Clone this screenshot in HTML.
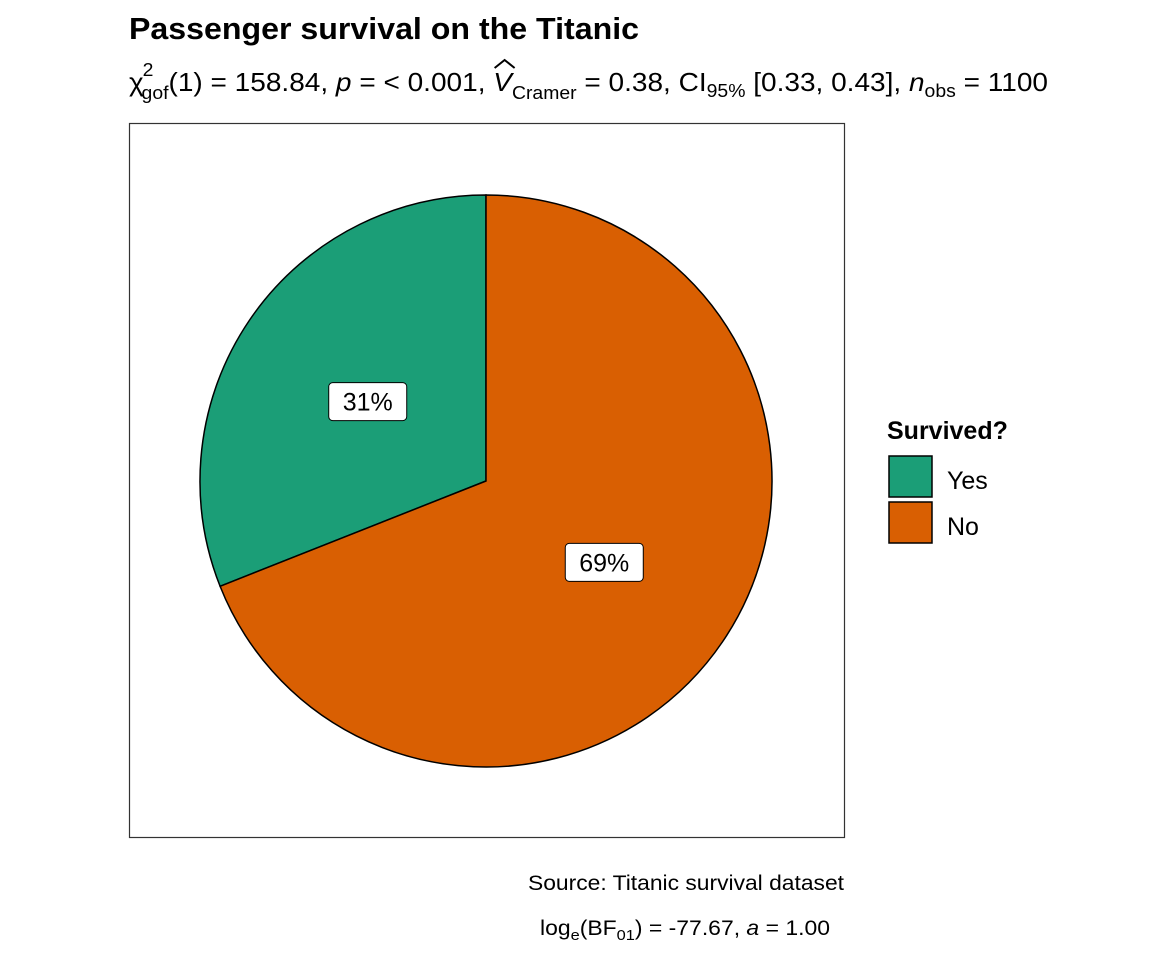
<!DOCTYPE html>
<html><head><meta charset="utf-8"><style>
html,body{margin:0;padding:0;background:#fff;}
svg{display:block;font-family:"Liberation Sans",sans-serif;}
</style></head><body>
<svg id="chart" width="1152" height="960" viewBox="0 0 1152 960">
<rect width="1152" height="960" fill="#fff"/>
<text x="129" y="39" font-size="31" font-weight="bold" fill="#000" textLength="510" lengthAdjust="spacingAndGlyphs">Passenger survival on the Titanic</text>
<text id="sub" x="129" y="91" font-size="26" fill="#000" textLength="919" lengthAdjust="spacingAndGlyphs">χ<tspan font-size="18" dy="-15" dx="-1">2</tspan><tspan font-size="18" dy="23" dx="-11">gof</tspan><tspan dy="-8">(1) = 158.84, </tspan><tspan font-style="italic">p</tspan> = &lt; 0.001, <tspan id="vchar" font-style="italic">V</tspan><tspan font-size="18" dy="8">Cramer</tspan><tspan dy="-8"> = 0.38, CI</tspan><tspan font-size="18" dy="6">95%</tspan><tspan dy="-6"> [0.33, 0.43], </tspan><tspan font-style="italic">n</tspan><tspan font-size="18" dy="6">obs</tspan><tspan dy="-6"> = 1100</tspan></text>
<path id="hat" d="M497 68 L505 61 L513 68" fill="none" stroke="#000" stroke-width="2"/>
<rect x="129.5" y="123.5" width="715" height="714" fill="#fff" stroke="#333" stroke-width="1.2"/>
<g id="slices"></g>
<g id="labels"></g>
<text x="887" y="439" font-size="25" font-weight="bold">Survived?</text>
<rect x="889" y="456" width="43" height="41" fill="#1B9E77" stroke="#000" stroke-width="1.5"/>
<text x="947" y="489" font-size="25">Yes</text>
<rect x="889" y="502" width="43" height="41" fill="#D95F02" stroke="#000" stroke-width="1.5"/>
<text x="947" y="535" font-size="25">No</text>
<text x="844" y="890" font-size="21" text-anchor="end" textLength="316" lengthAdjust="spacingAndGlyphs">Source: Titanic survival dataset</text>
<text x="830" y="935" font-size="21" text-anchor="end" textLength="290" lengthAdjust="spacingAndGlyphs">log<tspan font-size="15" dy="5">e</tspan><tspan dy="-5">(BF</tspan><tspan font-size="15" dy="5">01</tspan><tspan dy="-5">) = -77.67, </tspan><tspan font-style="italic">a</tspan> = 1.00</text>
</svg>
<script>
const categories = ["Yes", "No"];
const values = [31, 69];
const labelsText = ["31%", "69%"];
const colors = ["#1B9E77", "#D95F02"];
const NS = "http://www.w3.org/2000/svg";
const cx = 486, cy = 481, R = 286;
const total = values.reduce((a,b)=>a+b,0);
function pt(frac, r){ const a = frac*2*Math.PI; return [cx - Math.sin(a)*r, cy - Math.cos(a)*r]; }
let cum = 0;
const gs = document.getElementById('slices'), gl = document.getElementById('labels');
values.forEach((v,i)=>{
  const f0 = cum/total, f1 = (cum+v)/total; cum += v;
  const p0 = pt(f0,R), p1 = pt(f1,R);
  const large = (f1-f0) > 0.5 ? 1 : 0;
  const path = document.createElementNS(NS,'path');
  path.setAttribute('d', `M${cx},${cy} L${p0[0]},${p0[1]} A${R},${R} 0 ${large} 0 ${p1[0]},${p1[1]} Z`);
  path.setAttribute('fill', colors[i]);
  path.setAttribute('stroke', '#000');
  path.setAttribute('stroke-width', '1.5');
  
  
  gs.appendChild(path);
  const m = pt((f0+f1)/2, R/2);
  const w = 78, h = 38;
  const box = document.createElementNS(NS,'rect');
  box.setAttribute('x', m[0]-w/2); box.setAttribute('y', m[1]-h/2+1);
  box.setAttribute('width', w); box.setAttribute('height', h);
  box.setAttribute('rx', 4); box.setAttribute('fill', '#fff');
  box.setAttribute('stroke', '#000'); box.setAttribute('stroke-width', '1');
  
  
  gl.appendChild(box);
  const t = document.createElementNS(NS,'text');
  t.setAttribute('x', m[0]); t.setAttribute('y', m[1]+10);
  t.setAttribute('text-anchor', 'middle'); t.setAttribute('font-size', '25');
  t.textContent = labelsText[i];
  
  
  gl.appendChild(t);
});
// position the hat above the V
try {
  const sub = document.getElementById('sub');
  const full = sub.textContent;
  const idx = full.indexOf('V');
  const ext = sub.getExtentOfChar(idx);
  const mx = ext.x + ext.width/2 + 2;
  document.getElementById('hat').setAttribute('d', `M${mx-10} 68 L${mx} 60 L${mx+10} 68`);
} catch(e) {}
</script>
</body></html>
